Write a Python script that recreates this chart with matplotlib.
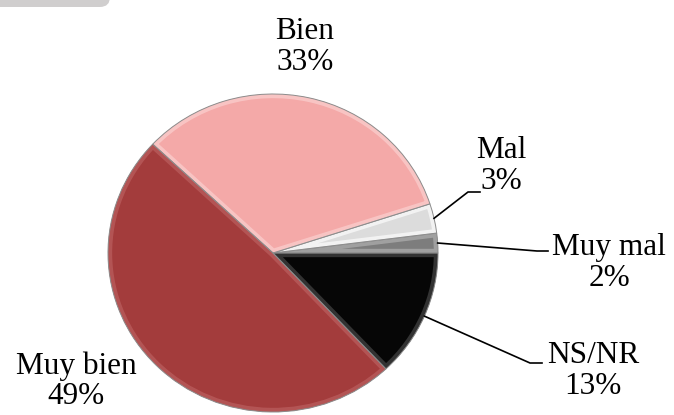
import matplotlib.pyplot as plt
import numpy as np
from matplotlib.patches import Wedge, FancyBboxPatch

labels = ['Muy mal', 'Mal', 'Bien', 'Muy bien', 'NS/NR']
values = [2, 3, 33, 49, 13]
colors = ['#7d7d7d', '#dcdcdc', '#f4a9a8', '#a33c3c', '#060606']
rim_colors = ['#b4b4b4', '#ffffff', '#fbd3d3', '#bd6262', '#4a4a4a']

# label block centres and leader elbows, in image pixels (from top-left)
label_pos = {'Muy mal': (609, 263), 'Mal': (501, 166), 'Bien': (305, 47),
             'Muy bien': (76, 381), 'NS/NR': (593, 371)}
elbows = {'Mal': ((468, 192), (480, 192)),
          'Muy mal': ((537, 251), (548, 251)),
          'NS/NR': ((530, 363), (542, 363))}

W, H = 674, 415
cx, cy, rx, ry = 273, 253, 165, 159


def px(x, y):
    return (x - cx) / rx, (cy - y) / ry


fig = plt.figure(figsize=(W / 100, H / 100), dpi=100)
ax = fig.add_axes([0, 0, 1, 1])

wedges, _ = ax.pie(values, colors=colors, startangle=0, counterclock=True,
                   radius=1, wedgeprops=dict(edgecolor='none', linewidth=0))

# inner bevel: lighter stroke clipped to each slice
for w, rc in zip(wedges, rim_colors):
    b = Wedge(w.center, w.r, w.theta1, w.theta2, facecolor='none',
              edgecolor=rc, linewidth=6, alpha=0.65)
    ax.add_patch(b)
    b.set_clip_path(w)
    edge = Wedge(w.center, w.r, w.theta1, w.theta2, facecolor='none',
                 edgecolor='#8c8c8c', linewidth=0.7)
    ax.add_patch(edge)

ax.set_aspect('auto')
ax.set_xlim(px(0, 0)[0], px(W, 0)[0])
ax.set_ylim(px(0, H)[1], px(0, 0)[1])
ax.axis('off')

for w, lab, v in zip(wedges, labels, values):
    tx, ty = px(*label_pos[lab])
    ax.text(tx, ty, '%s\n%d%%' % (lab, v), ha='center', va='center',
            fontsize=22.5, family='Liberation Serif', linespacing=1.05,
            color='black')
    if lab in elbows:
        mid = np.deg2rad((w.theta1 + w.theta2) / 2)
        sx, sy = np.cos(mid), np.sin(mid)
        (ex, ey), (hx, hy) = elbows[lab]
        e = px(ex, ey)
        h = px(hx, hy)
        ax.plot([sx, e[0], h[0]], [sy, e[1], h[1]], color='black', lw=1.2)

tab = FancyBboxPatch((-20 / W, 1 - 7 / H), 130 / W, 30 / H,
                     boxstyle='round,pad=0,rounding_size=0.015',
                     transform=fig.transFigure, facecolor='#d0cece',
                     edgecolor='none', mutation_aspect=W / H)
fig.patches.append(tab)

fig.savefig('out.png', dpi=100)
